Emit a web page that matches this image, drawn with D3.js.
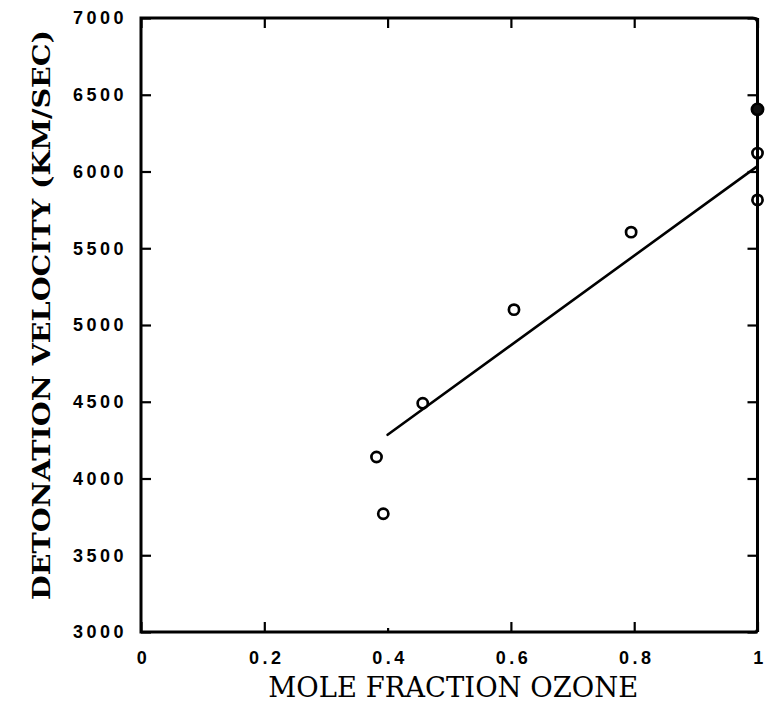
<!DOCTYPE html>
<html>
<head>
<meta charset="utf-8">
<script src="https://cdn.jsdelivr.net/npm/d3@7"></script>
<style>
  html, body { margin: 0; padding: 0; background: #fff; }
  svg { display: block; }
  .tick text { font-family: "Liberation Sans", Arial, sans-serif; font-weight: bold; font-size: 18px; letter-spacing: 3.5px; fill: #000; }
</style>
</head>
<body>
<svg id="chart" width="767" height="710"></svg>
<script>
// Detonation velocity measurements vs. ozone mole fraction
const moleFraction = [0.382, 0.393, 0.457, 0.605, 0.795, 1.0, 1.0, 1.0];
const velocity     = [4140, 3770, 4490, 5100, 5605, 6405, 6120, 5815];
const solidMark    = [false, false, false, false, false, true, false, false];

// Least-squares fit line endpoints
const fitX = [0.4, 1.0];
const fitY = [4285, 6035];

const xTicks = [0, 0.2, 0.4, 0.6, 0.8, 1];
const xTickLabels = ["0", "0.2", "0.4", "0.6", "0.8", "1"];
const yTicks = [3000, 3500, 4000, 4500, 5000, 5500, 6000, 6500, 7000];

const svg = d3.select("#chart");
const plot = { left: 141, right: 757.5, top: 18, bottom: 632 };

const x = d3.scaleLinear().domain([0, 1]).range([plot.left, plot.right]);
const y = d3.scaleLinear().domain([3000, 7000]).range([plot.bottom, plot.top]);

// Axes with inward ticks
const gx = svg.append("g").attr("transform", `translate(0,${plot.bottom})`)
  .call(d3.axisBottom(x).tickValues(xTicks).tickFormat((d, i) => xTickLabels[i]).tickSize(-10).tickPadding(19));
const gxTop = svg.append("g").attr("transform", `translate(0,${plot.top})`)
  .call(d3.axisTop(x).tickValues(xTicks).tickFormat("").tickSize(-10));
const gy = svg.append("g").attr("transform", `translate(${plot.left},0)`)
  .call(d3.axisLeft(y).tickValues(yTicks).tickFormat(d3.format("d")).tickSize(-10).tickPadding(14));
const gyRight = svg.append("g").attr("transform", `translate(${plot.right},0)`)
  .call(d3.axisRight(y).tickValues(yTicks).tickFormat("").tickSize(-10));

[gx, gxTop, gy, gyRight].forEach(g => {
  g.select(".domain").remove();
  g.selectAll(".tick line").attr("stroke", "#000").attr("stroke-width", 2.2);
});
gx.selectAll(".tick line").filter(d => d === 0.4).attr("y2", -4);
// keep centred x labels centred despite trailing letter spacing
gx.selectAll(".tick text").attr("dx", 2);

// Plot frame with slightly rounded top-right corner
const r = 5;
const L = plot.left, R = plot.right, T = plot.top, B = plot.bottom;
svg.append("path")
  .attr("d", `M${L},${B} L${L},${T} L${R - r},${T} Q${R},${T} ${R},${T + r} L${R},${B - 3} Q${R},${B} ${R - 3},${B} Z`)
  .attr("fill", "none").attr("stroke", "#000").attr("stroke-width", 3);

// Fit line
svg.append("line")
  .attr("x1", x(fitX[0])).attr("y1", y(fitY[0]))
  .attr("x2", x(fitX[1])).attr("y2", y(fitY[1]))
  .attr("stroke", "#000").attr("stroke-width", 2.6).attr("stroke-linecap", "round");

// Data points
svg.append("g").selectAll("circle")
  .data(moleFraction.map((m, i) => ({ m, v: velocity[i], solid: solidMark[i] })))
  .join("circle")
  .attr("cx", d => x(d.m))
  .attr("cy", d => y(d.v))
  .attr("r", d => d.solid ? 5.6 : 5.1)
  .attr("fill", d => d.solid ? "#111" : "none")
  .attr("stroke", "#000").attr("stroke-width", 2.7);

// Axis titles
svg.append("text")
  .attr("x", (plot.left + plot.right) / 2 + 4).attr("y", 697)
  .attr("text-anchor", "middle")
  .attr("font-family", "DejaVu Serif, serif").attr("font-size", 27)
  .attr("textLength", 370).attr("lengthAdjust", "spacingAndGlyphs")
  .text("MOLE FRACTION OZONE");

svg.append("text")
  .attr("transform", "translate(50,315) rotate(-90)")
  .attr("text-anchor", "middle")
  .attr("font-family", "DejaVu Serif, serif").attr("font-weight", "bold").attr("font-size", 24)
  .attr("textLength", 570).attr("lengthAdjust", "spacingAndGlyphs")
  .text("DETONATION VELOCITY (KM/SEC)");
</script>
</body>
</html>
